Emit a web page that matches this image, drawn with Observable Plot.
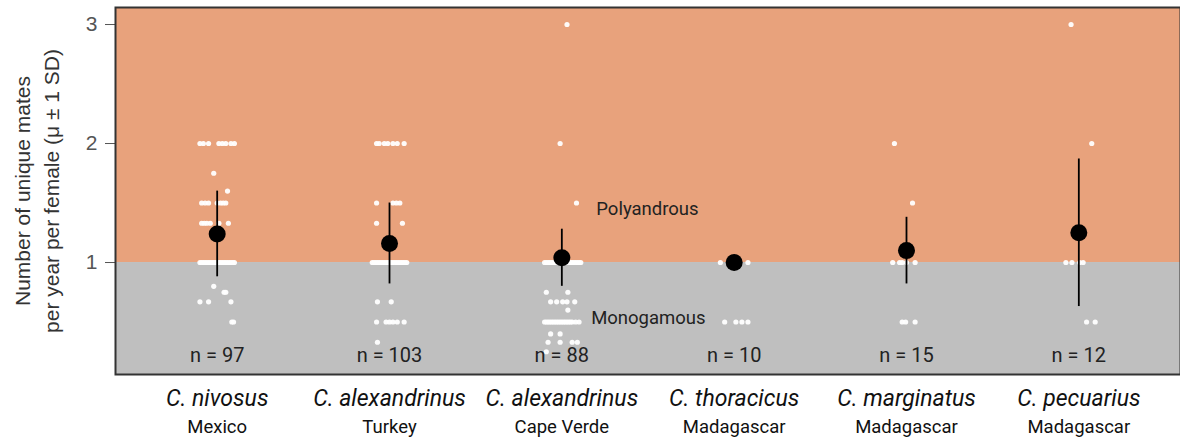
<!DOCTYPE html>
<html><head><meta charset="utf-8">
<script src="https://cdn.jsdelivr.net/npm/d3@7"></script>
<script src="https://cdn.jsdelivr.net/npm/@observablehq/plot@0.6"></script>
<style>body{margin:0;background:#fff;}</style>
</head><body><div id="chart"></div>
<script>
// Categories
const species = ["C. nivosus", "C. alexandrinus", "C. alexandrinus", "C. thoracicus", "C. marginatus", "C. pecuarius"];
const locations = ["Mexico", "Turkey", "Cape Verde", "Madagascar", "Madagascar", "Madagascar"];
const nCounts = [97, 103, 88, 10, 15, 12];
// Mean and SD of unique mates per year per female
const means = [1.24, 1.16, 1.04, 1.00, 1.10, 1.25];
const sds = [0.36, 0.34, 0.24, 0.00, 0.28, 0.62];
const yTicks = [1, 2, 3];
const yDomain = [0.059, 3.143];
const xDomain = [-0.59, 5.59];

// Individual females: [value, jitter offsets (fraction of category spacing)]
const ptsNivosus = [
  [2.0, [-0.10, -0.08, -0.05, 0.01, 0.03, 0.05, 0.08, 0.10]],
  [1.75, [-0.02]],
  [1.6, [0.06]],
  [1.5, [-0.09, -0.07, -0.05, 0.0, 0.02, 0.035, 0.05]],
  [1.33, [-0.09, -0.075, -0.06, -0.04, 0.01, 0.065]],
  [1.0, [-0.10, -0.09, -0.08, -0.07, -0.06, -0.05, -0.04, -0.03, -0.02, -0.01, 0, 0.01, 0.02, 0.03, 0.04, 0.05, 0.06, 0.07, 0.08, 0.09, 0.10]],
  [0.8, [-0.02]],
  [0.75, [0.04, 0.05]],
  [0.67, [-0.10, -0.05, 0.08]],
  [0.5, [0.085, 0.095]]
];
const ptsTurkey = [
  [2.0, [-0.075, -0.06, -0.03, -0.01, 0.02, 0.045, 0.085]],
  [1.5, [-0.075, 0.02, 0.04, 0.06]],
  [1.33, [-0.075, 0.075]],
  [1.0, [-0.10, -0.09, -0.08, -0.07, -0.06, -0.05, -0.04, -0.03, -0.02, -0.01, 0, 0.01, 0.02, 0.03, 0.04, 0.05, 0.06, 0.07, 0.08, 0.09, 0.10]],
  [0.67, [-0.07, 0.01]],
  [0.5, [-0.075, -0.02, 0, 0.02, 0.045, 0.085]],
  [0.33, [-0.07]]
];
const ptsCapeVerde = [
  [3.0, [0.03]],
  [2.0, [-0.01]],
  [1.5, [0.085]],
  [1.0, [-0.10, -0.09, -0.08, -0.07, -0.06, -0.05, -0.04, -0.02, 0, 0.02, 0.04, 0.05, 0.06, 0.07, 0.08, 0.09, 0.10, 0.11]],
  [0.75, [-0.09, 0.035]],
  [0.67, [-0.065, -0.03, 0.005, 0.03, 0.075]],
  [0.6, [0.035]],
  [0.5, [-0.10, -0.09, -0.08, -0.07, -0.06, -0.05, -0.04, -0.03, -0.02, -0.01, 0, 0.01, 0.02, 0.03, 0.04, 0.05, 0.06, 0.08, 0.10]],
  [0.4, [-0.065, -0.01]],
  [0.33, [-0.08, -0.01, 0.06, 0.09]],
  [0.25, [-0.09]]
];
const ptsThoracicus = [
  [1.0, [-0.08, 0, 0.08]],
  [0.5, [-0.055, 0.01, 0.045, 0.08]]
];
const ptsMarginatus = [
  [2.0, [-0.07]],
  [1.5, [0.035]],
  [1.0, [-0.08, -0.04, -0.025, 0, 0.05]],
  [0.5, [-0.025, -0.005, 0.05]]
];
const ptsPecuarius = [
  [3.0, [-0.045]],
  [2.0, [0.075]],
  [1.0, [-0.075, -0.04, 0.005, 0.025]],
  [0.5, [0.045, 0.095]]
];
const allPts = [ptsNivosus, ptsTurkey, ptsCapeVerde, ptsThoracicus, ptsMarginatus, ptsPecuarius];

const regions = [
  {name: "Polyandrous", lo: 1, hi: yDomain[1], fill: "#E8A27C", labelValue: 1.45, labelPos: 2.2},
  {name: "Monogamous", lo: yDomain[0], hi: 1, fill: "#BFBFBF", labelValue: 0.53, labelPos: 2.17}
];
const yTitle = "Number of unique mates\nper year per female (\u03bc \u00b1 1 SD)";

const points = [];
allPts.forEach((rows, i) => rows.forEach(([v, offs]) => offs.forEach(o => points.push({x: i + o, y: v}))));
const summary = species.map((s, i) => ({i, sp: s, loc: locations[i], n: nCounts[i], mean: means[i], sd: sds[i]}));

const chart = Plot.plot({
  width: 1180,
  height: 442,
  marginLeft: 115,
  marginRight: 0,
  marginTop: 7,
  marginBottom: 68,
  style: {fontFamily: "Roboto, sans-serif", background: "#fff"},
  x: {domain: xDomain, axis: null},
  y: {domain: yDomain, axis: null},
  color: {type: "identity"},
  marks: [
    Plot.rect(regions, {x1: d => xDomain[0], x2: d => xDomain[1], y1: "lo", y2: "hi", fill: "fill"}),
    Plot.text(regions, {x: "labelPos", y: "labelValue", text: "name", textAnchor: "start", fontSize: 18.5, fill: "#222"}),
    Plot.dot(points, {x: "x", y: "y", r: 2.6, fill: "white", fillOpacity: 0.95}),
    Plot.ruleX(summary, {x: "i", y1: d => d.mean - d.sd, y2: d => d.mean + d.sd, stroke: "black", strokeWidth: 1.8}),
    Plot.dot(summary, {x: "i", y: "mean", r: 8.5, fill: "black"}),
    Plot.text(summary, {x: "i", frameAnchor: "bottom", dy: -13, text: d => `n = ${d.n}`, fontSize: 20, fill: "#222"}),
    Plot.text(summary, {x: "i", frameAnchor: "bottom", dy: 31, text: "sp", fontStyle: "italic", fontSize: 23, fill: "#111"}),
    Plot.text(summary, {x: "i", frameAnchor: "bottom", dy: 58, text: "loc", fontSize: 18.5, fill: "#111"}),
    Plot.axisY({ticks: yTicks, tickFormat: d => String(d), tickSize: 10, tickPadding: 8, fontSize: 21, color: "#555", label: null, fontFamily: "Liberation Sans"}),
    Plot.text([yTitle], {frameAnchor: "left", dx: -80, rotate: -90, textAnchor: "middle", lineAnchor: "middle", text: d => d, fontSize: 21, lineHeight: 1.35, fill: "#333", fontFamily: "Liberation Sans"}),
    Plot.frame({stroke: "#333", strokeWidth: 2})
  ]
});
document.getElementById("chart").appendChild(chart);
</script>
</body></html>
